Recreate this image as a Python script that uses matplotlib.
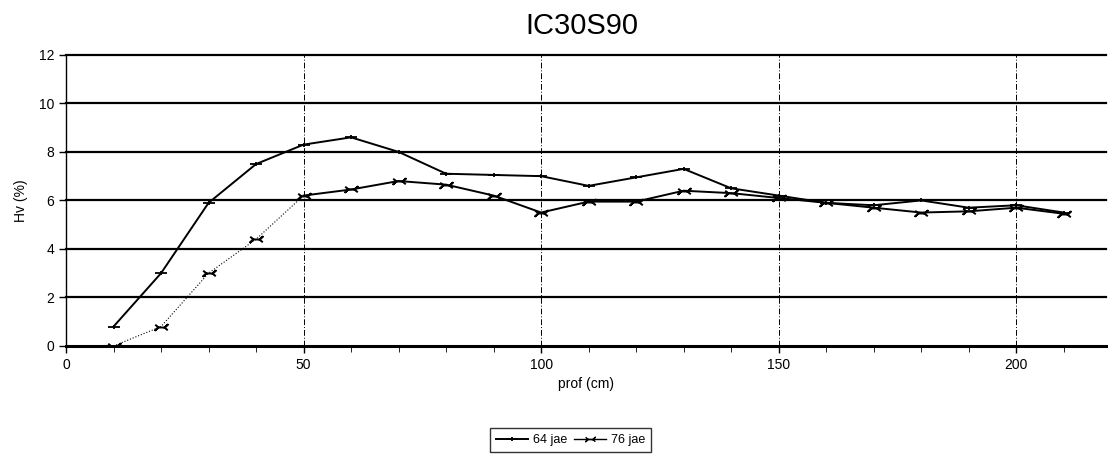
import matplotlib.pyplot as plt
import numpy as np
from matplotlib.path import Path

plt.rcParams['font.family'] = ['Liberation Sans', 'DejaVu Sans']

# data
prof = [10, 20, 30, 40, 50, 60, 70, 80, 90, 100, 110, 120, 130, 140, 150, 160, 170, 180, 190, 200, 210]
jae64 = [0.8, 3.0, 5.9, 7.5, 8.3, 8.6, 8.0, 7.1, 7.05, 7.0, 6.6, 6.95, 7.3, 6.5, 6.2, 5.9, 5.8, 6.0, 5.7, 5.8, 5.5]
jae76 = [0.0, 0.8, 3.0, 4.4, 6.2, 6.45, 6.8, 6.65, 6.2, 5.5, 5.95, 5.95, 6.4, 6.3, 6.1, 5.9, 5.7, 5.5, 5.55, 5.7, 5.45]
series_names = ['64 jae', '76 jae']

# markers: flat cross and horizontal bowtie
M, L = Path.MOVETO, Path.LINETO
flatcross = Path([(-1, 0), (1, 0), (0, -0.35), (0, 0.35)], [M, L, M, L])
bowtie = Path([(-1, 0.45), (-0.5, 0), (-1, -0.45), (-0.5, 0), (0.5, 0), (1, 0.45), (0.5, 0), (1, -0.45)],
              [M, L, L, L, L, L, L, L])

fig = plt.figure(figsize=(11.08, 4.65), dpi=100)
ax = fig.add_axes([0.0596, 0.256, 0.939, 0.626])

# grid
for yv in range(2, 13, 2):
    ax.axhline(yv, color='black', lw=1.6, zorder=1, clip_on=False)
for xv in [50, 100, 150, 200]:
    ax.axvline(xv, color='black', lw=0.7, ls=(0, (6, 2, 1, 2)), zorder=1)

ax.plot(prof, jae64, color='black', lw=1.4, marker=flatcross, ms=9, mew=1.3, label=series_names[0], zorder=3)
ax.plot(prof[:5], jae76[:5], color='black', lw=0.8, ls=':', zorder=3)
ax.plot(prof[4:], jae76[4:], color='black', lw=1.4, zorder=3)
ax.plot(prof, jae76, color='black', lw=0, marker=bowtie, ms=9, mew=1.4, zorder=4)
ax.plot([], [], color='black', lw=1.0, marker=bowtie, ms=7, mew=1.0, label=series_names[1])

ax.set_xlim(0, 219)
ax.set_ylim(0, 12)
ax.set_xticks([0, 50, 100, 150, 200])
ax.set_xticks(np.arange(0, 220, 10), minor=True)
ax.set_yticks(range(0, 13, 2))
ax.tick_params(axis='both', labelsize=10, direction='out', length=5, width=1, color='black')
ax.tick_params(axis='x', which='minor', length=4)

for s in ['top', 'right']:
    ax.spines[s].set_visible(False)
ax.spines['bottom'].set_linewidth(2.2)
ax.spines['left'].set_linewidth(1.0)

ax.set_xlabel('prof (cm)', fontsize=10, labelpad=4)
ax.set_ylabel('Hv (%)', fontsize=10, labelpad=8)
fig.suptitle('IC30S90', fontsize=21, x=0.525, y=0.975)

fig.legend(loc='center', bbox_to_anchor=(0.515, 0.054), ncol=2, fontsize=9, frameon=True,
           fancybox=False, edgecolor='black', handlelength=2.5, columnspacing=0.6, handletextpad=0.4,
           borderpad=0.5)

fig.savefig('out.png', dpi=100)
